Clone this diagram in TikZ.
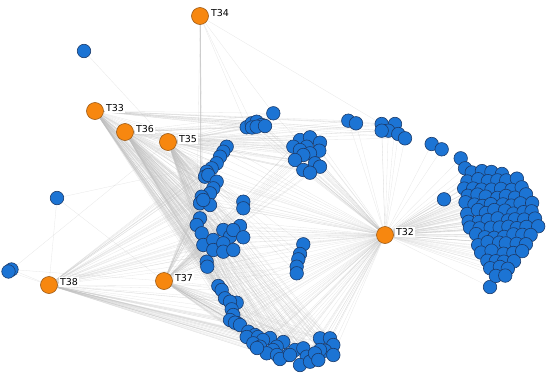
\documentclass[tikz,border=0pt]{standalone}
\usepackage{fontspec}
\setmainfont{DejaVu Sans}
\pgfdeclarelayer{background}
\pgfsetlayers{background,main}
\definecolor{nodeblue}{HTML}{1C74D4}
\definecolor{nodeedge}{HTML}{1B3B6B}
\definecolor{nodeorange}{HTML}{F7870F}
\definecolor{orangeedge}{HTML}{9C5A16}
\definecolor{linkgray}{HTML}{BEBEBE}
\newcount\ecnt
\newcommand\hubto[3]{\foreach \i in {1,...,#3} {\draw[link] (#1) -- (#2\i);}}
\def\Alist{226.7/146.7, 223.3/151.7, 220/156.7, 216.7/163.3, 211.7/168.3, 206.7/171.7, 205/176.7, 208.3/175, 216.7/181.7, 213.3/188.3, 210/193.3, 201.7/196.7, 200/203.3, 210/205, 203.3/200, 200/218.3, 196.7/225, 201.7/233.3, 203.3/245, 213.3/240, 213.3/250, 223.3/230, 230/236.7, 223.3/243.3, 223.3/251.7, 233.3/250, 240/226, 233.3/230, 243.3/237.3, 243.3/201.7, 243.3/208.3, 206.7/261.7, 207.3/266.7}
\def\Blist{273.3/113.3, 246.7/127.3, 251.7/123.3, 256.7/121.7, 261.7/125, 252/127.5, 256.7/126.7, 265/126}
\def\Clist{300/140, 310/137.3, 306.7/146.7, 320/142.7, 293.3/146.7, 300/150, 319.3/150.7, 310/153.3, 303.3/155, 295/160, 315/163.3, 320/166.7, 303.3/170, 310/172.7}
\def\Dlist{348.3/120.7, 356/123.3, 381.7/124, 395/124, 388.3/130.7, 381.7/130.7, 398.3/134, 405/138.3, 431.7/144, 441.7/149.3, 460.7/158.3, 465/168.3, 444/199.3, 490/287}
\def\Glist{303.3/244.3, 300/254, 298.3/259.3, 296.7/266.7, 296.7/273.3}
\def\Flist{218.3/286, 221.7/290, 225/298.3, 236.7/302.7, 230/301.7, 231.7/309.3, 233.3/315, 230/320, 237/323, 235/322.7, 240/325, 248.3/331.7, 255/335, 246.7/337, 258/337, 270/338, 263/340, 253.3/343.3, 283.3/342, 260/346.7, 276.7/346.7, 273/350, 266.7/353.3, 257/348, 295/350, 288/355, 277/355, 280/359, 290/355, 303.3/348.3, 306.7/356.7, 300/365, 310/361.7, 320/338.3, 330/338.3, 333.3/345, 325/350.7, 320/350, 315/353.3, 318.3/360, 333.3/355}
\def\Erows{172/472/4, 180/468/6, 188/464/7, 196/468/7, 204/464/8, 212/467/8, 220/469/8, 228/471/8, 236/475/7, 244/479/6, 252/483/5, 260/486/4, 268/490/3, 276/495/2}
\begin{document}
\begin{tikzpicture}[x=1pt,y=-1pt,
  bnode/.style={circle, fill=nodeblue, draw=nodeedge, line width=0.6pt, minimum size=13.5pt, inner sep=0pt},
  onode/.style={circle, fill=nodeorange, draw=orangeedge, line width=0.6pt, minimum size=17pt, inner sep=0pt},
  olabel/.style={font=\fontsize{9.5}{11}\selectfont, fill=white, inner sep=1pt, anchor=west},
  link/.style={draw=linkgray, line width=0.3pt, opacity=0.38}]
\useasboundingbox (0,0) rectangle (550,378);
\pgfmathsetseed{7}
% hubs
\node[onode] (T34) at (200,16) {};
\node[onode] (T33) at (95,111) {};
\node[onode] (T36) at (125,132) {};
\node[onode] (T35) at (168,142) {};
\node[onode] (T32) at (385,235) {};
\node[onode] (T37) at (164,281) {};
\node[onode] (T38) at (49,285) {};
% isolated
\node[bnode] (I1) at (84,51) {};
\node[bnode] (I2) at (57,198) {};
\node[bnode] (I3) at (11.5,269.5) {};
\node[bnode] (I4) at (8.5,271.5) {};
% groups
\foreach \px/\py [count=\i] in \Alist {\node[bnode] (A\i) at (\px,\py) {}; \xdef\nA{\i}}
\foreach \px/\py [count=\i] in \Blist {\node[bnode] (B\i) at (\px,\py) {}; \xdef\nB{\i}}
\foreach \px/\py [count=\i] in \Clist {\node[bnode] (C\i) at (\px,\py) {}; \xdef\nC{\i}}
\foreach \px/\py [count=\i] in \Dlist {\node[bnode] (D\i) at (\px,\py) {}; \xdef\nD{\i}}
\foreach \px/\py [count=\i] in \Glist {\node[bnode] (G\i) at (\px,\py) {}; \xdef\nG{\i}}
\foreach \px/\py [count=\i] in \Flist {\node[bnode] (F\i) at (\px,\py) {}; \xdef\nF{\i}}
\global\ecnt=0
\foreach \yy/\xa/\n in \Erows {\foreach \k in {1,...,\n} {\global\advance\ecnt by 1
  \pgfmathsetmacro\xx{\xa+9.5*(\k-1)+2*rand}\pgfmathsetmacro\yj{\yy+2*rand}\pgfmathtruncatemacro\eidx{\ecnt}
  \node[bnode] (E\eidx) at (\xx,\yj) {};}}
\xdef\nE{\the\ecnt}
% labels
\foreach \t in {T32,T33,T34,T35,T36,T37,T38} {\node[olabel] (\t l) at ([xshift=1pt,yshift=3pt]\t.east) {\t};}
% links
\begin{pgfonlayer}{background}
\hubto{T32}{A}{\nA}\hubto{T32}{B}{\nB}\hubto{T32}{C}{\nC}\hubto{T32}{D}{\nD}
\hubto{T32}{E}{\nE}\hubto{T32}{F}{\nF}\hubto{T32}{G}{\nG}
\hubto{T33}{A}{\nA}\hubto{T33}{B}{\nB}\hubto{T33}{F}{\nF}
\foreach \i in {1,...,8} {\draw[link] (T33) -- (D\i);}
\hubto{T36}{A}{\nA}\hubto{T36}{B}{\nB}\hubto{T36}{C}{\nC}\hubto{T36}{F}{\nF}
\hubto{T35}{A}{\nA}\hubto{T35}{B}{\nB}\hubto{T35}{C}{\nC}\hubto{T35}{F}{\nF}\hubto{T35}{G}{\nG}
\foreach \i in {1,...,8} {\draw[link] (T35) -- (D\i);}
\hubto{T37}{A}{\nA}\hubto{T37}{C}{\nC}\hubto{T37}{F}{\nF}\hubto{T37}{G}{\nG}
\hubto{T38}{A}{\nA}\hubto{T38}{F}{\nF}
\foreach \i in {12,13,15,16,17,18} {\draw[link] (T34) -- (A\i);}
\foreach \i in {1,2,3} {\draw[link] (T34) -- (B\i);}
\draw[link] (T34) -- (D3);
\draw[link] (I1) -- (T35);
\draw[link] (I2) -- (T37);
\draw[link] (I2) -- (A4);
\draw[link] (I2) -- (T38);
\draw[link] (I3) -- (T38);
\draw[link] (I3) -- (T35);
\draw[link] (I3) -- (T37);
\draw[link] (I4) -- (T38);
\end{pgfonlayer}
\end{tikzpicture}
\end{document}
